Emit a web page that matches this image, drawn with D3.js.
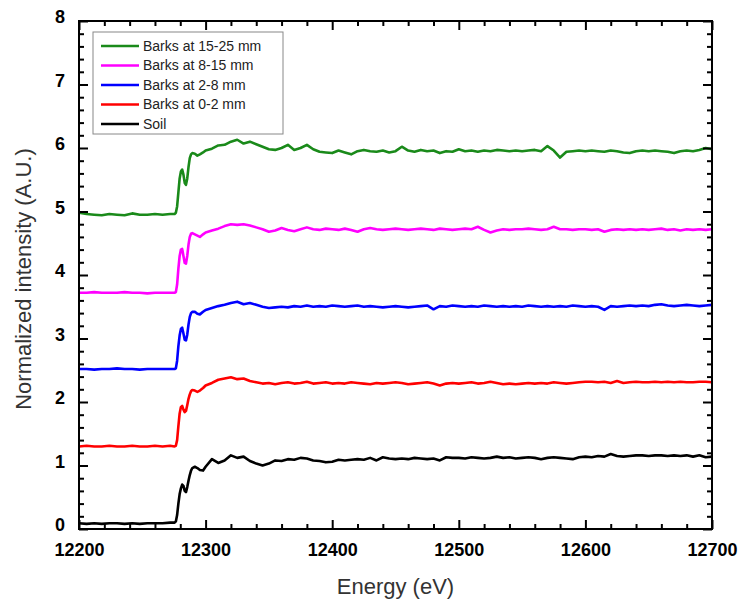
<!DOCTYPE html>
<html>
<head>
<meta charset="utf-8">
<script src="https://cdn.jsdelivr.net/npm/d3@7"></script>
<style>
  body { margin: 0; background: #fff; }
  svg { font-family: "Liberation Sans", Arial, sans-serif; }
</style>
</head>
<body>
<div id="vis"></div>
<script>
// data (energies in eV, normalized intensity with stacking offset)
const energy = [
  12200, 12206, 12212, 12218, 12224, 12230, 12236, 12242, 12248, 12254, 12260, 12266, 12272,
  12275.5, 12276.5, 12277.5, 12278.5, 12279.5, 12280.5, 12281.5, 12282.5, 12283.5, 12284.5, 12285.5, 12286.5, 12287.5, 12288.5, 12289.5, 12291.5, 12293.5, 12295.5,
  12298,
  12300, 12305, 12310, 12315, 12320, 12325, 12330, 12335, 12340, 12345,
  12350, 12355, 12360, 12365, 12370, 12375, 12380, 12385, 12390, 12395,
  12400, 12405, 12410, 12415, 12420, 12425, 12430, 12435, 12440, 12445,
  12450, 12455, 12460, 12465, 12470, 12475, 12480, 12485, 12490, 12495,
  12500, 12505, 12510, 12515, 12520, 12525, 12530, 12535, 12540, 12545,
  12550, 12555, 12560, 12565, 12570, 12575, 12580, 12585, 12590, 12595,
  12600, 12605, 12610, 12615, 12620, 12625, 12630, 12635, 12640, 12645,
  12650, 12655, 12660, 12665, 12670, 12675, 12680, 12685, 12690, 12695,
  12700
];

const soil = [
  0.09, 0.08, 0.09, 0.08, 0.09, 0.09, 0.08, 0.09, 0.08, 0.09, 0.09, 0.09, 0.10,
  0.10, 0.12, 0.22, 0.40, 0.55, 0.64, 0.70, 0.68, 0.60, 0.58, 0.66, 0.76, 0.85, 0.92, 0.96, 0.98, 0.96, 0.93,
  0.92,
  0.98, 1.10, 1.04, 1.08, 1.16, 1.12, 1.14, 1.07, 1.03, 1.00,
  1.03, 1.08, 1.07, 1.10, 1.09, 1.12, 1.11, 1.08, 1.07, 1.05,
  1.06, 1.09, 1.08, 1.09, 1.10, 1.09, 1.12, 1.08, 1.13, 1.11,
  1.10, 1.11, 1.10, 1.12, 1.11, 1.10, 1.11, 1.08, 1.13, 1.12,
  1.12, 1.11, 1.13, 1.12, 1.11, 1.12, 1.14, 1.12, 1.13, 1.11,
  1.12, 1.13, 1.12, 1.10, 1.12, 1.13, 1.12, 1.11, 1.10, 1.13,
  1.14, 1.13, 1.15, 1.14, 1.18, 1.15, 1.14, 1.15, 1.16, 1.16,
  1.15, 1.16, 1.16, 1.15, 1.16, 1.15, 1.16, 1.14, 1.16, 1.13,
  1.14
];

const barks02 = [
  1.30, 1.31, 1.30, 1.30, 1.31, 1.30, 1.30, 1.31, 1.30, 1.30, 1.31, 1.30, 1.31,
  1.30, 1.31, 1.40, 1.62, 1.82, 1.92, 1.94, 1.88, 1.84, 1.86, 1.95, 2.05, 2.12, 2.17, 2.19, 2.18, 2.16, 2.18,
  2.22,
  2.26, 2.30, 2.35, 2.37, 2.39, 2.36, 2.37, 2.33, 2.31, 2.29,
  2.30, 2.28, 2.30, 2.31, 2.29, 2.30, 2.32, 2.29, 2.30, 2.31,
  2.29, 2.30, 2.29, 2.31, 2.30, 2.29, 2.28, 2.30, 2.29, 2.30,
  2.31, 2.30, 2.28, 2.29, 2.30, 2.31, 2.29, 2.26, 2.29, 2.30,
  2.29, 2.30, 2.31, 2.29, 2.30, 2.32, 2.30, 2.28, 2.29, 2.28,
  2.29, 2.30, 2.29, 2.30, 2.29, 2.31, 2.30, 2.29, 2.30, 2.31,
  2.32, 2.32, 2.31, 2.32, 2.30, 2.33, 2.30, 2.31, 2.32, 2.31,
  2.31, 2.32, 2.31, 2.32, 2.31, 2.32, 2.31, 2.31, 2.32, 2.32,
  2.31
];

const barks28 = [
  2.52, 2.52, 2.51, 2.52, 2.52, 2.53, 2.52, 2.52, 2.51, 2.52, 2.52, 2.52, 2.52,
  2.52, 2.53, 2.65, 2.88, 3.05, 3.15, 3.17, 3.08, 2.98, 2.97, 3.06, 3.22, 3.34, 3.40, 3.42, 3.42, 3.39, 3.38,
  3.42,
  3.45, 3.48, 3.51, 3.53, 3.56, 3.58, 3.54, 3.56, 3.53, 3.50,
  3.48, 3.49, 3.50, 3.49, 3.51, 3.50, 3.52, 3.50, 3.51, 3.50,
  3.52, 3.51, 3.50, 3.51, 3.52, 3.50, 3.51, 3.50, 3.49, 3.50,
  3.51, 3.50, 3.49, 3.50, 3.51, 3.52, 3.46, 3.51, 3.50, 3.52,
  3.51, 3.50, 3.51, 3.50, 3.52, 3.51, 3.50, 3.51, 3.50, 3.51,
  3.50, 3.52, 3.51, 3.50, 3.51, 3.50, 3.51, 3.50, 3.52, 3.51,
  3.50, 3.51, 3.50, 3.45, 3.51, 3.50, 3.51, 3.52, 3.51, 3.52,
  3.51, 3.53, 3.54, 3.52, 3.51, 3.52, 3.53, 3.52, 3.51, 3.52,
  3.53
];

const barks815 = [
  3.72, 3.72, 3.73, 3.72, 3.72, 3.72, 3.73, 3.72, 3.72, 3.71, 3.72, 3.72, 3.72,
  3.72, 3.73, 3.85, 4.10, 4.30, 4.40, 4.41, 4.30, 4.19, 4.18, 4.30, 4.48, 4.60, 4.65, 4.66, 4.64, 4.62, 4.60,
  4.64,
  4.67, 4.70, 4.73, 4.77, 4.80, 4.79, 4.80, 4.78, 4.75, 4.72,
  4.68, 4.70, 4.74, 4.71, 4.69, 4.72, 4.75, 4.72, 4.71, 4.73,
  4.72, 4.71, 4.73, 4.71, 4.68, 4.72, 4.74, 4.72, 4.71, 4.72,
  4.73, 4.72, 4.71, 4.72, 4.73, 4.72, 4.71, 4.73, 4.72, 4.71,
  4.72, 4.73, 4.72, 4.76, 4.71, 4.67, 4.70, 4.72, 4.71, 4.72,
  4.72, 4.73, 4.72, 4.71, 4.72, 4.76, 4.72, 4.72, 4.71, 4.72,
  4.72, 4.71, 4.72, 4.68, 4.71, 4.72, 4.71, 4.72, 4.71, 4.72,
  4.71, 4.72, 4.73, 4.71, 4.72, 4.70, 4.72, 4.71, 4.72, 4.71,
  4.72
];

const barks1525 = [
  4.98, 4.96, 4.95, 4.94, 4.96, 4.95, 4.94, 4.97, 4.95, 4.95, 4.96, 4.95, 4.96,
  4.96, 4.98, 5.08, 5.30, 5.52, 5.63, 5.66, 5.58, 5.45, 5.42, 5.52, 5.70, 5.84, 5.90, 5.92, 5.91, 5.88, 5.90,
  5.93,
  5.96, 5.99, 6.04, 6.05, 6.10, 6.13, 6.07, 6.10, 6.06, 6.02,
  5.98, 5.97, 6.00, 6.05, 5.97, 6.00, 6.05, 5.98, 5.94, 5.93,
  5.92, 5.96, 5.93, 5.90, 5.95, 5.97, 5.95, 5.94, 5.96, 5.93,
  5.95, 6.02, 5.96, 5.94, 5.97, 5.95, 5.96, 5.92, 5.95, 5.94,
  5.98, 5.95, 5.96, 5.94, 5.96, 5.95, 5.97, 5.96, 5.95, 5.96,
  5.95, 5.96, 5.97, 5.95, 6.03, 5.96, 5.85, 5.94, 5.95, 5.96,
  5.95, 5.96, 5.95, 5.94, 5.96, 5.95, 5.93, 5.92, 5.95, 5.96,
  5.95, 5.96, 5.95, 5.94, 5.92, 5.95, 5.96, 5.95, 5.97, 6.00,
  5.98
];

const seriesNames = ['Barks at 15-25 mm', 'Barks at 8-15 mm', 'Barks at 2-8 mm', 'Barks at 0-2 mm', 'Soil'];
const seriesValues = [barks1525, barks815, barks28, barks02, soil];
const seriesColors = ['#1a8a1a', '#ff00ff', '#0000ff', '#ff0000', '#000000'];

const xTicks = [12200, 12300, 12400, 12500, 12600, 12700];
const yTicks = [0, 1, 2, 3, 4, 5, 6, 7, 8];

// margin
const margin = { top: 21, right: 29, bottom: 71, left: 79 };
const width = 741 - margin.left - margin.right;
const height = 600 - margin.top - margin.bottom;

const svg = d3.select('#vis')
    .append('svg')
    .attr('width', 741)
    .attr('height', 600);

const g = svg.append('g')
    .attr('transform', `translate(${margin.left},${margin.top})`);

// scales
const xScale = d3.scaleLinear().domain([12200, 12700]).range([0, width]);
const yScale = d3.scaleLinear().domain([0, 8]).range([height, 0]);

g.append('clipPath').attr('id', 'clip')
    .append('rect').attr('width', width).attr('height', height);

// lines
const line = d3.line()
    .x((d, i) => xScale(energy[i]))
    .y(d => yScale(d));

g.append('g').attr('clip-path', 'url(#clip)')
    .selectAll('path')
    .data(seriesValues.slice().reverse())
    .join('path')
    .attr('d', d => line(d))
    .attr('fill', 'none')
    .attr('stroke', (d, i) => seriesColors[seriesColors.length - 1 - i])
    .attr('stroke-width', 2.6)
    .attr('stroke-linejoin', 'round');

// axes (ticks inward, mirrored on top/right)
const xMinor = d3.range(12200, 12701, 20).filter(v => v % 100 !== 0);
const yMinor = d3.range(0, 8.01, 0.2).filter(v => Math.abs(v - Math.round(v)) > 0.01);

function styleAxis(sel) {
    sel.select('.domain').remove();
    sel.selectAll('line').attr('stroke', '#000').attr('stroke-width', 2);
}

// bottom
g.append('g').attr('transform', `translate(0,${height})`)
    .call(d3.axisBottom(xScale).tickValues(xTicks).tickSizeInner(-9).tickSizeOuter(0).tickPadding(14).tickFormat(d3.format('d')))
    .call(styleAxis)
    .call(s => s.selectAll('text').attr('font-size', 18).attr('font-weight', 'bold').attr('fill', '#000')
        .attr('font-family', '"Liberation Sans", Arial, sans-serif'));
g.append('g').attr('transform', `translate(0,${height})`)
    .call(d3.axisBottom(xScale).tickValues(xMinor).tickSizeInner(-5).tickSizeOuter(0).tickFormat(''))
    .call(styleAxis);
// top
g.append('g')
    .call(d3.axisTop(xScale).tickValues(xTicks).tickSizeInner(-9).tickSizeOuter(0).tickFormat(''))
    .call(styleAxis);
g.append('g')
    .call(d3.axisTop(xScale).tickValues(xMinor).tickSizeInner(-5).tickSizeOuter(0).tickFormat(''))
    .call(styleAxis);
// left
g.append('g')
    .call(d3.axisLeft(yScale).tickValues(yTicks).tickSizeInner(-9).tickSizeOuter(0).tickPadding(14))
    .call(styleAxis)
    .call(s => s.selectAll('text').attr('font-size', 18).attr('font-weight', 'bold').attr('fill', '#000')
        .attr('dy', '0.1em').attr('font-family', '"Liberation Sans", Arial, sans-serif'));
g.append('g')
    .call(d3.axisLeft(yScale).tickValues(yMinor).tickSizeInner(-5).tickSizeOuter(0).tickFormat(''))
    .call(styleAxis);
// right
g.append('g').attr('transform', `translate(${width},0)`)
    .call(d3.axisRight(yScale).tickValues(yTicks).tickSizeInner(-9).tickSizeOuter(0).tickFormat(''))
    .call(styleAxis);
g.append('g').attr('transform', `translate(${width},0)`)
    .call(d3.axisRight(yScale).tickValues(yMinor).tickSizeInner(-5).tickSizeOuter(0).tickFormat(''))
    .call(styleAxis);

// frame
g.append('rect')
    .attr('width', width)
    .attr('height', height)
    .attr('fill', 'none')
    .attr('stroke', '#000')
    .attr('stroke-width', 2);

// axis titles
svg.append('text')
    .attr('x', margin.left + width / 2)
    .attr('y', 594)
    .attr('text-anchor', 'middle')
    .attr('font-size', 22)
    .attr('fill', '#333')
    .text('Energy (eV)');

svg.append('text')
    .attr('transform', `translate(31,${margin.top + height / 2 + 4}) rotate(-90)`)
    .attr('text-anchor', 'middle')
    .attr('font-size', 22)
    .attr('fill', '#333')
    .text('Normalized intensity (A.U.)');

// legend
const legend = svg.append('g').attr('transform', 'translate(93,32)');
legend.append('rect')
    .attr('width', 190)
    .attr('height', 102)
    .attr('fill', '#fff')
    .attr('stroke', '#888')
    .attr('stroke-width', 1);

const items = legend.selectAll('.item')
    .data(seriesNames)
    .join('g')
    .attr('class', 'item')
    .attr('transform', (d, i) => `translate(0,${14 + i * 19.5})`);

items.append('line')
    .attr('x1', 8).attr('x2', 46)
    .attr('stroke', (d, i) => seriesColors[i])
    .attr('stroke-width', 2.6);

items.append('text')
    .attr('x', 50)
    .attr('dy', '0.35em')
    .attr('font-size', 14)
    .attr('fill', '#222')
    .text(d => d);
</script>
</body>
</html>
